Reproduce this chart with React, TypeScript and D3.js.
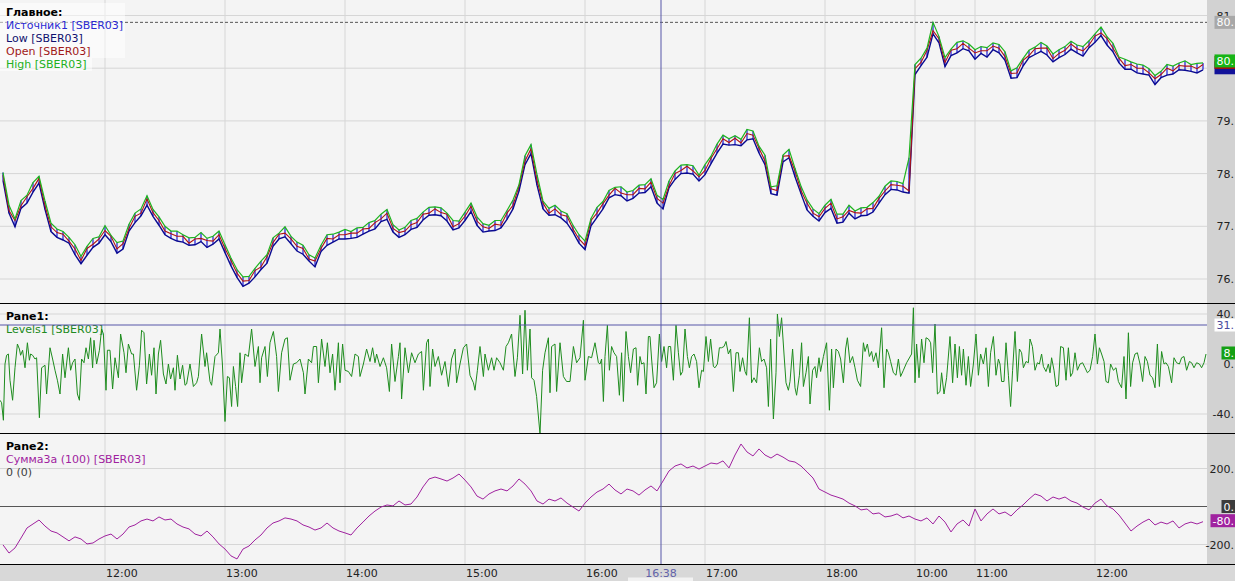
import React from 'react';
import * as d3 from 'd3';

// ---------- DATA ----------
// trading sessions (3-minute bars)
const sessions = [
  { start: '11:09', bars: 152 },
  { start: '10:00', bars: 1 },
  { start: '10:33', bars: 48 },
];
const cursorTime = '16:38';
const cursorLevel = 31.2;

const high = [
  78.02, 77.40, 77.14, 77.49, 77.59, 77.83, 77.95, 77.48, 77.06, 76.95,
  76.90, 76.79, 76.65, 76.43, 76.62, 76.77, 76.80, 77.01, 76.83, 76.69,
  76.72, 77.04, 77.25, 77.33, 77.58, 77.32, 77.18, 77.00, 76.91, 76.91,
  76.84, 76.78, 76.79, 76.88, 76.77, 76.81, 76.91, 76.65, 76.40, 76.18,
  76.04, 76.05, 76.20, 76.34, 76.46, 76.78, 76.87, 76.99, 76.81, 76.70,
  76.64, 76.46, 76.40, 76.64, 76.84, 76.85, 76.89, 76.94, 76.90, 76.97,
  76.98, 77.07, 77.11, 77.23, 77.32, 77.03, 76.93, 76.98, 77.11, 77.15,
  77.27, 77.36, 77.37, 77.35, 77.25, 77.11, 77.10, 77.27, 77.44, 77.18,
  77.05, 77.02, 77.11, 77.11, 77.30, 77.50, 77.79, 78.34, 78.55, 77.98,
  77.48, 77.34, 77.40, 77.29, 77.24, 77.02, 76.84, 76.72, 77.15, 77.36,
  77.47, 77.68, 77.74, 77.75, 77.65, 77.68, 77.78, 77.79, 77.90, 77.59,
  77.51, 77.86, 78.05, 78.16, 78.17, 78.15, 77.97, 78.17, 78.33, 78.56,
  78.73, 78.66, 78.72, 78.65, 78.84, 78.81, 78.52, 78.35, 77.75, 77.77,
  78.35, 78.46, 78.10, 77.76, 77.50, 77.33, 77.24, 77.40, 77.51, 77.23,
  77.23, 77.40, 77.29, 77.35, 77.36, 77.45, 77.57, 77.76, 77.86, 77.85,
  77.81, 78.30, 80.07, 80.19, 80.38, 80.87, 80.60, 80.20, 80.36, 80.49,
  80.52, 80.46, 80.35, 80.41, 80.39, 80.48, 80.45, 80.31, 79.95, 80.01,
  80.18, 80.34, 80.40, 80.49, 80.42, 80.27, 80.35, 80.41, 80.51, 80.44,
  80.41, 80.52, 80.65, 80.78, 80.60, 80.47, 80.21, 80.17, 80.12, 80.08,
  80.06, 79.99, 79.86, 79.94, 80.07, 80.04, 80.10, 80.14, 80.07, 80.09,
  80.10,
];
const low = [
  77.87, 77.25, 76.99, 77.34, 77.44, 77.65, 77.82, 77.32, 76.90, 76.79,
  76.74, 76.68, 76.46, 76.29, 76.45, 76.60, 76.68, 76.84, 76.71, 76.49,
  76.57, 76.91, 77.07, 77.20, 77.40, 77.19, 77.02, 76.84, 76.77, 76.72,
  76.70, 76.64, 76.65, 76.71, 76.60, 76.66, 76.76, 76.50, 76.25, 76.03,
  75.86, 75.92, 76.04, 76.18, 76.30, 76.62, 76.76, 76.80, 76.67, 76.53,
  76.47, 76.34, 76.23, 76.52, 76.64, 76.70, 76.76, 76.76, 76.77, 76.79,
  76.85, 76.91, 76.95, 77.09, 77.13, 76.89, 76.79, 76.84, 76.94, 76.98,
  77.12, 77.21, 77.22, 77.20, 77.10, 76.93, 76.97, 77.11, 77.28, 77.02,
  76.89, 76.91, 76.92, 76.97, 77.13, 77.33, 77.67, 78.17, 78.38, 77.78,
  77.33, 77.21, 77.22, 77.16, 77.06, 76.89, 76.68, 76.56, 77.01, 77.17,
  77.33, 77.54, 77.60, 77.58, 77.48, 77.53, 77.63, 77.64, 77.75, 77.44,
  77.33, 77.73, 77.89, 78.00, 78.01, 77.99, 77.86, 77.98, 78.19, 78.39,
  78.56, 78.54, 78.55, 78.53, 78.64, 78.66, 78.39, 78.17, 77.62, 77.59,
  78.22, 78.30, 77.94, 77.62, 77.31, 77.19, 77.10, 77.26, 77.34, 77.06,
  77.08, 77.25, 77.14, 77.20, 77.21, 77.27, 77.44, 77.60, 77.70, 77.69,
  77.65, 77.63, 79.88, 80.05, 80.21, 80.65, 80.48, 80.03, 80.24, 80.29,
  80.37, 80.33, 80.17, 80.28, 80.21, 80.35, 80.29, 80.15, 79.81, 79.82,
  80.04, 80.20, 80.26, 80.32, 80.25, 80.12, 80.20, 80.26, 80.36, 80.29,
  80.23, 80.39, 80.49, 80.62, 80.44, 80.31, 80.10, 79.98, 79.98, 79.91,
  79.89, 79.87, 79.69, 79.82, 79.87, 79.89, 79.97, 79.96, 79.94, 79.91,
  79.97,
];
const open = [
  77.97, 77.30, 77.11, 77.39, 77.56, 77.72, 77.91, 77.39, 76.99, 76.88,
  76.85, 76.72, 76.57, 76.35, 76.58, 76.66, 76.76, 76.92, 76.81, 76.57,
  76.67, 76.96, 77.19, 77.25, 77.52, 77.26, 77.11, 76.91, 76.86, 76.81,
  76.81, 76.68, 76.76, 76.77, 76.73, 76.72, 76.84, 76.58, 76.35, 76.11,
  75.96, 75.97, 76.16, 76.23, 76.42, 76.69, 76.85, 76.87, 76.76, 76.62,
  76.58, 76.38, 76.34, 76.58, 76.77, 76.76, 76.84, 76.84, 76.87, 76.87,
  76.95, 76.96, 77.07, 77.14, 77.25, 76.96, 76.88, 76.91, 77.03, 77.07,
  77.23, 77.25, 77.33, 77.26, 77.23, 76.99, 77.05, 77.19, 77.38, 77.10,
  76.99, 76.96, 77.04, 77.02, 77.25, 77.40, 77.76, 78.24, 78.47, 77.87,
  77.44, 77.25, 77.33, 77.22, 77.19, 76.95, 76.76, 76.64, 77.11, 77.25,
  77.43, 77.59, 77.72, 77.63, 77.60, 77.60, 77.72, 77.71, 77.84, 77.53,
  77.44, 77.77, 78.00, 78.06, 78.14, 78.05, 77.94, 78.06, 78.29, 78.47,
  78.66, 78.59, 78.67, 78.58, 78.76, 78.73, 78.48, 78.24, 77.71, 77.68,
  78.33, 78.34, 78.05, 77.68, 77.44, 77.25, 77.18, 77.34, 77.44, 77.14,
  77.18, 77.30, 77.26, 77.25, 77.33, 77.34, 77.53, 77.67, 77.79, 77.78,
  77.76, 77.67, 79.99, 80.11, 80.34, 80.71, 80.56, 80.11, 80.34, 80.37,
  80.47, 80.38, 80.29, 80.33, 80.33, 80.42, 80.38, 80.22, 79.90, 79.91,
  80.15, 80.24, 80.37, 80.38, 80.38, 80.18, 80.28, 80.34, 80.46, 80.37,
  80.33, 80.44, 80.61, 80.67, 80.56, 80.38, 80.19, 80.05, 80.07, 80.00,
  80.00, 79.91, 79.80, 79.88, 80.00, 79.95, 80.05, 80.04, 80.04, 79.99,
  80.07,
];

// Levels1: [minute index, value]
const levels1: [number, number][] = [
  [0, -29], [0.8, -31], [1.7, -45], [2.5, 0], [3.3, 7], [4.2, 8], [5, -13], [6.3, -29], [7.5, -3], [8.7, 16],
  [9.7, 12], [10.3, 7], [11.3, 11], [12.5, -3], [13.7, 17], [14.7, 3], [15.3, 8], [16.3, 7], [17.5, 4], [18.3, 5],
  [19.7, -43], [20.8, -3], [22.5, -1], [23.3, -24], [25, 13], [26.3, 4], [27.5, -5], [28.7, -13], [30, -24], [31.3, 8],
  [32.5, -11], [34.2, 13], [35.3, -5], [36.3, 1], [37.5, 4], [38.7, -24], [39.7, -29], [40.8, 4], [42, 1], [43, 13],
  [44.2, 4], [45.3, 21], [46.3, -3], [47, 19], [48.3, 0], [49.7, 11], [50.8, 28], [51.7, 24], [53, -21], [53.7, 11],
  [55, 11], [56.3, -20], [57.5, 5], [59.2, -11], [60.3, 24], [62, 9], [63, -7], [64.2, 16], [65.8, 8], [66.7, 8],
  [68.3, -21], [69.7, -1], [70.8, 27], [72, 25], [73.3, -16], [74.7, 8], [75.8, -9], [77, 13], [78, -24], [79.2, 8],
  [80.3, 19], [81.7, -8], [83, -16], [84.2, 0], [85.3, -12], [86.7, -3], [87.5, -21], [88.7, 7], [90, -12], [91.3, -1],
  [92.5, -17], [93.3, -16],
  [95, 0], [96.7, -18], [98.3, -15], [99.2, -10], [100.8, 24], [102.5, -2], [103.3, 9], [105, -14], [105.8, -17], [107.5, 6],
  [109.2, 9], [110, 28], [111.2, 0], [112.5, -46], [113.7, -10], [114.7, -11], [115.8, -34], [116.7, -2], [117.8, -18], [118.8, -34],
  [120, 9], [120.8, -15], [122.5, 8], [124.2, 6], [125.8, 28], [127.5, -2], [129.2, 14], [130, -15], [130.8, 5], [132.5, 14],
  [133.7, -10], [135, 17], [136.7, 26], [138.3, 6], [139.2, -22], [140.8, 9], [142.5, 20], [143.7, 21], [145, -13], [146.7, 0],
  [148.3, 1], [150, 4], [151.7, -7], [152.5, -24], [154.2, 4], [155.8, 1], [156.7, 14], [158.3, 14], [159.2, -15], [160.8, 20],
  [162.5, -2], [163.7, 17], [165, -7], [166.3, 8], [167.5, -21], [169.2, 17], [170, -15], [171.3, 16], [172.5, -5], [174.2, -6],
  [175.8, -10], [177.5, 8], [179.2, 6], [180, -10], [181.7, 0], [183.3, 12], [185, 2], [186.3, 13], [187.5, 1], [188.3, 8],
  [190, -2], [191.7, 5], [193.3, -3], [194.7, -22], [195.8, 16], [197.5, -14], [199.2, 6], [200, 17], [200.8, -28], [202.5, 13],
  [204.2, -7], [205.8, 9], [207.5, 1], [209.2, 8], [210.8, 10], [211.7, -21], [213.3, 17], [214.2, 20], [215, -18], [216.3, 12],
  [217.5, -2], [219.2, 6], [220.8, -9], [222.5, 2], [224.2, -18], [225.8, 4], [227.5, 12], [228.3, -15], [230, 0], [231.7, 13],
  [233.3, 16], [235, -9], [236.7, -15], [237.5, -21], [238.7, -5], [240, 14], [241.7, -10], [242.5, 8], [244.2, -5], [245.8, 5],
  [247, -5], [248.3, 5], [250, 1], [251.7, -5], [253, 14], [254.2, 17], [255.8, 24], [257.5, -10], [258.7, 5], [260, 39],
  [261.3, -8], [262.5, 43], [263.7, -5], [265, 28], [265.8, -11], [267, -13], [268.3, -26], [270, -56], [271.3, -5], [272.5, 9],
  [274.2, 21], [275, -23], [275.8, 14], [277.5, 16], [278.3, -22], [280, 17], [281.7, -10], [283.3, -14], [285, -14], [286.7, 14],
  [288.3, 1], [290, 5], [291.7, 35], [292.5, -13], [294.2, 6], [295.8, 5], [297.5, 17], [299.2, 1],
  [300, 0], [300.8, 4], [301.7, -30], [302.5, 6], [303.7, 31], [304.7, -5], [305.8, 14], [307, 9], [308.3, 6], [309.7, -25],
  [310.8, 9], [311.7, -30], [313, 26], [314.2, 6], [315.3, -7], [316.7, 12], [318, 13], [318.8, -17], [320, 6], [320.8, 0],
  [322, 1], [323, -24], [324.2, 22], [325, 22], [325.8, 4], [327, -19], [328.3, -15], [329.7, 24], [330.8, 2], [332, 14],
  [333.3, -3], [334.2, 14], [335.3, 14], [336.7, -13], [338, 31], [339.2, 9], [340.3, -9], [341.3, -6], [342.5, 28], [343.7, 6],
  [344.7, -3], [345.8, 6], [347, 8], [348.3, 2], [349.5, -19], [350.8, -5], [351.7, -6], [353, 22], [354.2, 2], [355.3, 20],
  [356.7, -2], [357.5, -3], [358.7, 0], [359.7, 13], [360.8, 13], [362, 14], [363, 18], [364.2, 8], [365.3, 12], [366.7, -22],
  [368, 9], [369.2, 9], [370, -6], [371.3, 5], [372.5, -6], [373.3, -9], [374.7, 37], [375.8, -15], [377, -11], [378.3, -15],
  [379.7, 13], [380.8, 2], [382, 4], [383.3, -3], [384.2, -34], [385.3, 20], [386.7, -44], [388, -7], [388.7, 40], [389.7, 22],
  [390.8, 37], [392, 8], [393, -15], [394.2, -21], [395, -14], [396.3, 12], [397.5, -19], [398.3, -25], [399.7, -9], [400.8, 17],
  [401.7, -18], [403, -7], [404.2, 6], [405, -32], [406.3, -5], [407.5, -2], [408.3, -11], [409.5, 5], [410.3, -6], [411.7, 6],
  [413.3, 17], [414.7, -37], [415.8, 12], [416.7, -19], [418, 12], [419.2, 10], [420.3, 4], [421.7, -15], [422.8, 12], [423.7, 21],
  [425, 1], [426.3, 6], [427.5, -3], [428.7, -13], [430.3, -18], [431.7, 17], [432.5, 10], [433.7, 16], [434.7, 6], [435.8, 10],
  [436.7, 2], [438, 9], [439.2, -3], [440.8, 29], [442, -19], [443.3, 12], [444.2, 9], [445.3, 2], [446.7, -7], [448, -9],
  [449.2, 4], [450.3, -10], [451.7, -5], [453.3, 1], [455.8, 8], [456.7, 45], [457.5, -15], [458.3, 16], [459.5, -11], [460.8, 20],
  [462, 1], [463, 21], [464.2, 20], [465.3, 17], [466.3, -7], [467.5, 32], [468.7, -24], [470, -22], [470.8, -7], [472, -24],
  [473.3, -11], [475, 22], [476.3, -15], [477.5, 16], [478.7, -11], [479.7, 14], [480.8, -9], [481.7, 12], [483, -17], [484.2, 6],
  [485.3, -18], [486.7, 0], [488, 24], [489.2, -9], [490.3, 8], [491.7, 0], [493, 13], [494.2, -18], [495.3, 9], [496.7, 22],
  [498, -9], [499.2, 4],
  [500, 0], [500.8, -14], [502, -14], [503, 17], [504.2, -9], [505.3, -34], [506.3, -5], [507.5, 26], [508.7, -14], [509.7, 12],
  [510.8, 9], [511.7, -3], [513, 2], [514.2, 1], [515, 20], [516.2, 14], [517.5, -5], [518.7, 1], [519.7, 0], [520.8, 8],
  [521.7, -2], [523, -6], [524.2, 0], [525, -7], [525.8, 5], [527, -5], [528, -18], [529.2, -17], [530.3, 14], [531.7, 13],
  [533, -13], [534.2, 13], [535.3, -10], [536.3, -7], [537.5, 9], [538.7, -5], [540, 0], [541.3, 1], [542.5, -3], [543.7, -7],
  [545, -5], [546.3, 6], [547.5, 24], [548.7, 0], [549.7, 13], [550.8, 8], [552, 2], [553, -14], [554.2, -15], [555.3, 0],
  [556.7, -5], [558, -3], [559.2, -14], [560.8, -19], [562, 6], [563, -28], [564.2, 25], [565.3, -18], [566.3, 1], [567.5, 8],
  [568.7, 9], [570, 0], [571.3, -14], [572.5, 6], [573.7, 2], [575, -9], [576.3, -11], [577.5, -19], [578.7, 16], [579.7, -18],
  [580.8, 10], [582, 0], [583, 1], [584.2, -2], [585.8, -15], [587, 5], [588.3, 1], [589.7, 0], [590.8, 5], [592, 6],
  [593.3, -5], [594.7, 2], [595.8, 1], [597, -3], [598.3, 1], [599.7, 0], [600.8, -3], [602, 1], [603, 8],
];

// Сумма3а (100): one value per bar
const summa = [
  -202, -245, -218, -166, -113, -92, -71, -103, -129, -139,
  -160, -181, -160, -171, -197, -192, -171, -155, -145, -171,
  -145, -108, -97, -76, -66, -76, -55, -71, -66, -92,
  -108, -118, -145, -155, -129, -160, -197, -224, -260, -276,
  -224, -208, -176, -150, -113, -87, -76, -60, -66, -76,
  -97, -108, -124, -113, -87, -113, -129, -139, -150, -113,
  -82, -50, -24, -3, 8, 3, 29, 8, 13, 50,
  103, 145, 155, 145, 134, 150, 171, 139, 103, 55,
  39, 66, 82, 92, 82, 108, 145, 118, 82, 29,
  13, 39, 29, 45, 18, -3, -24, 18, 50, 76,
  92, 118, 87, 66, 92, 82, 60, 87, 108, 82,
  134, 187, 213, 224, 203, 213, 197, 213, 229, 224,
  240, 203, 271, 329, 287, 266, 303, 271, 255, 276,
  260, 240, 234, 213, 182, 150, 92, 76, 60, 50,
  39, 18, 3, -18, -13, -39, -34, -55, -50, -39,
  -60, -50, -66, -76, -60, -92, -50, -82, -134, -92,
  -71, -103, -13, -76, -39, -13, -39, -29, -50, -18,
  8, 39, 66, 55, 29, 50, 39, 50, 29, 18,
  -3, -18, 18, 39, 3, -13, -45, -87, -129, -103,
  -82, -66, -97, -82, -92, -76, -113, -92, -82, -92,
  -80,
];
const zeroLevel = 0;

const mainTicks = [76, 77, 78, 79, 80, 81];
const pane1Ticks = [-40, 0, 40];
const pane2Ticks = [-200, 200];

// ---------- LAYOUT ----------
const W = 1235;
const H = 581;
const PR = 1207; // plot right edge
const AX = 1234; // right anchor of axis texts
const FONT = '"DejaVu Sans", Verdana, sans-serif';

const toMin = (s: string) => {
  const [h, m] = s.split(':').map(Number);
  return h * 60 + m;
};
const fmt = (m: number) =>
  `${String(Math.floor(m / 60)).padStart(2, '0')}:${String(m % 60).padStart(2, '0')}`;

// the narrow price scale only shows the integer part and the point
const axisText = (v: number) => `${v < 0 ? '-' : ''}${Math.floor(Math.abs(v))}.`;

function textW(s: string) {
  let w = 0;
  for (const c of s) w += c === '.' ? 3.5 : c === '-' ? 4.0 : 7.0;
  return w;
}

function ValueLabel({ y, value, fill, color = '#fff', showText = true }: { y: number; value: number; fill: string; color?: string; showText?: boolean }) {
  const s = axisText(value);
  const w = textW(s);
  return (
    <g>
      <rect x={AX - w - 2} y={y - 6.5} width={W - (AX - w - 2)} height={13} fill={fill} />
      {showText && (
        <text x={AX} y={y + 4} textAnchor="end" fill={color} fontSize={11} fontFamily={FONT}>
          {s}
        </text>
      )}
    </g>
  );
}

export default function App() {
  const barTimes = sessions.flatMap((s) =>
    Array.from({ length: s.bars }, (_, k) => fmt(toMin(s.start) + 3 * k))
  );
  const barT = (i: number) => 1.5 + 3 * i;
  const xS = d3.scaleLinear().domain([0, 603]).range([0, 1206]);
  const yMain = d3.scaleLinear().domain([76, 81]).range([279, 15.5]);
  const yP1 = d3.scaleLinear().domain([-40, 40]).range([414, 314]);
  const yP2 = d3.scaleLinear().domain([-200, 200]).range([544.5, 468.5]);

  const ticks = barTimes
    .map((t, i) => ({ t, i }))
    .filter((d) => d.t.endsWith(':00'));

  const cursorX = xS(barT(0) + (toMin(cursorTime) - toMin(sessions[0].start)));

  const barLine = (vals: number[], y: d3.ScaleLinear<number, number>) =>
    d3.line<number>().x((_, i) => xS(barT(i))).y((d) => y(d))(vals) || '';

  const levelsPath =
    d3.line<[number, number]>().x((d) => xS(d[0])).y((d) => yP1(d[1]))(levels1) || '';

  const maxHigh = d3.max(high) as number;
  const last = high.length - 1;

  // last-value label centres in the main pane (the tick label hidden under them is not drawn)
  const mainLabelYs = [yMain(low[last]) - 2, yMain(open[last]) - 2, yMain(high[last]) - 2];
  const tickVisible = (y: number) => mainLabelYs.every((ly) => Math.abs(ly - y) > 9);

  const legendMain = [
    { t: 'Источник1 [SBER03]', c: '#2a2ad2' },
    { t: 'Low [SBER03]', c: '#10106e' },
    { t: 'Open [SBER03]', c: '#a01818' },
    { t: 'High [SBER03]', c: '#22b022' },
  ];

  const gridC = '#d6d6d6';

  return (
    <svg
      width={W}
      height={H}
      viewBox={`0 0 ${W} ${H}`}
      style={{ position: 'absolute', left: 0, top: 0, display: 'block', background: '#f4f4f4' }}
      fontFamily={FONT}
    >
      <defs>
        <clipPath id="cMain"><rect x={0} y={0} width={PR} height={303} /></clipPath>
        <clipPath id="cP1"><rect x={0} y={304} width={PR} height={129} /></clipPath>
        <clipPath id="cP2"><rect x={0} y={434} width={PR} height={130} /></clipPath>
      </defs>

      {/* plot background */}
      <rect x={0} y={0} width={PR} height={565} fill="#f4f4f4" />

      {/* horizontal grids */}
      {mainTicks.map((v) => (
        <line key={'gm' + v} x1={0} x2={PR} y1={yMain(v)} y2={yMain(v)} stroke={gridC} />
      ))}
      {pane1Ticks.map((v) => (
        <line key={'g1' + v} x1={0} x2={PR} y1={yP1(v)} y2={yP1(v)} stroke={gridC} />
      ))}
      {pane2Ticks.map((v) => (
        <line key={'g2' + v} x1={0} x2={PR} y1={yP2(v)} y2={yP2(v)} stroke={gridC} />
      ))}
      {/* vertical grids */}
      {ticks.map((d) => (
        <line key={'gv' + d.i} x1={xS(barT(d.i))} x2={xS(barT(d.i))} y1={0} y2={565} stroke={gridC} />
      ))}

      {/* ---- main pane ---- */}
      <g clipPath="url(#cMain)">
        <line x1={0} x2={PR} y1={yMain(maxHigh)} y2={yMain(maxHigh)} stroke="#555" strokeDasharray="3,2" />
        {high.map((h, i) => (
          <line key={'b' + i} x1={xS(barT(i))} x2={xS(barT(i))} y1={yMain(h)} y2={yMain(low[i])} stroke="#1a1ad8" strokeWidth={1.2} />
        ))}
        <path d={barLine(low, yMain)} fill="none" stroke="#0a0a90" strokeWidth={1.4} />
        <path d={barLine(open, yMain)} fill="none" stroke="#b01414" strokeWidth={1.1} />
        <path d={barLine(high, yMain)} fill="none" stroke="#1fb41f" strokeWidth={1.2} />
      </g>

      {/* main legend */}
      <rect x={0} y={3} width={125} height={55} fill="#ffffff" opacity={0.5} />
      <rect x={0} y={58} width={92} height={13} fill="#ffffff" opacity={0.5} />
      <text x={6} y={16} fontSize={11} fontWeight="bold" fill="#000">Главное:</text>
      {legendMain.map((l, k) => (
        <text key={l.t} x={6} y={29 + 13 * k} fontSize={11} fill={l.c}>{l.t}</text>
      ))}

      {/* ---- pane 1 ---- */}
      <g clipPath="url(#cP1)">
        <path d={levelsPath} fill="none" stroke="#1e8c1e" strokeWidth={1} />
      </g>
      <text x={6} y={320} fontSize={11} fontWeight="bold" fill="#000">Pane1:</text>
      <text x={6} y={333} fontSize={11} fill="#208a20">Levels1 [SBER03]</text>

      {/* ---- pane 2 ---- */}
      <g clipPath="url(#cP2)">
        <line x1={0} x2={PR} y1={yP2(zeroLevel)} y2={yP2(zeroLevel)} stroke="#555" strokeWidth={1} />
        <path d={barLine(summa, yP2)} fill="none" stroke="#a0229f" strokeWidth={1} />
      </g>
      <text x={6} y={450} fontSize={11} fontWeight="bold" fill="#000">Pane2:</text>
      <text x={6} y={463} fontSize={11} fill="#a0229f">Сумма3а (100) [SBER03]</text>
      <text x={6} y={476} fontSize={11} fill="#404040">0 (0)</text>

      {/* crosshair */}
      <line x1={cursorX} x2={cursorX} y1={0} y2={565} stroke="#5656a8" strokeWidth={1} />
      <line x1={0} x2={PR} y1={yP1(cursorLevel)} y2={yP1(cursorLevel)} stroke="#5656a8" strokeWidth={1} />

      {/* right axis */}
      <rect x={PR} y={0} width={W - PR} height={565} fill="#d2d2d2" />
      {mainTicks.filter((v) => tickVisible(yMain(v))).map((v) => (
        <text key={'tm' + v} x={AX} y={yMain(v) + 4} textAnchor="end" fontSize={11} fill="#222">{axisText(v)}</text>
      ))}
      {pane1Ticks.map((v) => (
        <text key={'t1' + v} x={AX} y={yP1(v) + 4} textAnchor="end" fontSize={11} fill="#222">{axisText(v)}</text>
      ))}
      {pane2Ticks.map((v) => (
        <text key={'t2' + v} x={AX} y={yP2(v) + 4} textAnchor="end" fontSize={11} fill="#222">{axisText(v)}</text>
      ))}

      {/* value labels */}
      <ValueLabel y={yMain(maxHigh)} value={maxHigh} fill="#a8a8a8" />
      <ValueLabel y={mainLabelYs[0]} value={low[last]} fill="#12129a" showText={false} />
      <ValueLabel y={mainLabelYs[1]} value={open[last]} fill="#a01010" showText={false} />
      <ValueLabel y={mainLabelYs[2]} value={high[last]} fill="#16b416" />
      <ValueLabel y={yP1(cursorLevel)} value={cursorLevel} fill="#ffffff" color="#4a4a9c" />
      <ValueLabel y={yP1(levels1[levels1.length - 1][1]) - 1} value={levels1[levels1.length - 1][1]} fill="#14a014" />
      <ValueLabel y={yP2(zeroLevel)} value={zeroLevel} fill="#3c3c3c" />
      <ValueLabel y={yP2(summa[summa.length - 1]) - 1} value={summa[summa.length - 1]} fill="#a0229f" />

      {/* pane separators */}
      <line x1={0} x2={W} y1={303.5} y2={303.5} stroke="#000" strokeWidth={1.2} />
      <line x1={0} x2={W} y1={433.5} y2={433.5} stroke="#000" strokeWidth={1.2} />

      {/* bottom axis */}
      <rect x={0} y={565} width={W} height={16} fill="#d8d8d8" />
      <line x1={0} x2={W} y1={564.5} y2={564.5} stroke="#000" strokeWidth={1.2} />
      {ticks.map((d) => (
        <text key={'tx' + d.i} x={xS(barT(d.i)) + 1} y={577} fontSize={11} fill="#222">{d.t}</text>
      ))}
      <rect x={cursorX - 33} y={577.5} width={65} height={4} fill="#f2f2f2" />
      <text x={cursorX} y={577} textAnchor="middle" fontSize={11} fill="#6262a8">{cursorTime}</text>
    </svg>
  );
}
